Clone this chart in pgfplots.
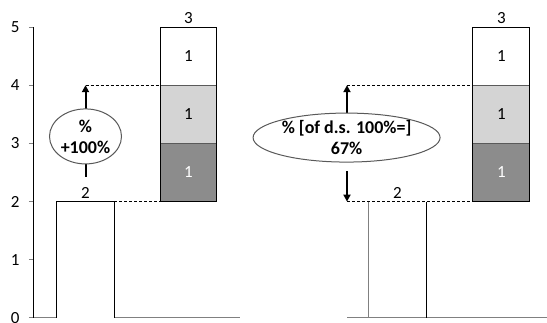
\documentclass[border=0pt]{standalone}
\usepackage{pgfplots}
\pgfplotsset{compat=1.18}
\usepackage{fontspec}
\setmainfont{Carlito}
\usetikzlibrary{arrows.meta,shapes.geometric}

\definecolor{segdark}{HTML}{8C8C8C}
\definecolor{seglight}{HTML}{D4D4D4}
\definecolor{segline}{HTML}{5A5A5A}

\pgfplotsset{
  panel/.style={
    scale only axis, anchor=south west, height=291pt,
    ymin=0, ymax=5, clip=false,
    xtick=\empty,
    tick label style={font=\fontsize{17}{17}\selectfont},
    /pgf/number format/assume math mode=true,
  },
  seg/.style={draw=segline, line width=1pt},
}
\tikzset{
  lbl/.style={font=\fontsize{17}{17}\selectfont},
  arr/.style={line width=2pt, -{Triangle[length=7pt,width=7pt]}},
  dsh/.style={black, line width=0.8pt, dash pattern=on 3pt off 2pt},
  oval/.style={ellipse, draw=gray!70!black, line width=1pt, fill=white, inner sep=0pt,
    align=center, font=\bfseries\fontsize{18}{21}\selectfont},
}

\begin{document}
\begin{tikzpicture}
\useasboundingbox (0,0) rectangle (547pt,323pt);

% left panel
\begin{axis}[panel, at={(34pt,5pt)}, width=206pt,
  xmin=0.5, xmax=2.5,
  axis x line=bottom, axis y line=left,
  x axis line style={-, gray, line width=1pt},
  y axis line style={-, black, line width=1pt},
  ytick={0,1,2,3,4,5},
  tick align=outside, major tick length=5pt,
  y tick style={gray, line width=1pt},
  yticklabel style={xshift=-6pt},
]
% base bar
\addplot[draw=black, fill=white, line width=1pt]
  coordinates {(0.722,0) (0.722,2) (1.278,2) (1.278,0)};
% stacked bar: 1 + 1 + 1 on top of 2
\addplot[seg, fill=segdark]  coordinates {(1.725,2) (2.275,2) (2.275,3) (1.725,3)} -- cycle;
\addplot[seg, fill=seglight] coordinates {(1.725,3) (2.275,3) (2.275,4) (1.725,4)} -- cycle;
\addplot[seg, fill=white]    coordinates {(1.725,4) (2.275,4) (2.275,5) (1.725,5)} -- cycle;
\draw[black, line width=1pt] (axis cs:1.725,2) rectangle (axis cs:2.275,5);

\addplot[dsh] coordinates {(1.0,4) (1.725,4)};
\addplot[dsh] coordinates {(1.278,2) (1.725,2)};

\node[lbl, above] at (axis cs:1,2) {2};
\node[lbl, above] at (axis cs:2,5) {3};
\node[lbl] at (axis cs:2,4.5) {1};
\node[lbl] at (axis cs:2,3.5) {1};
\node[lbl, white] at (axis cs:2,2.5) {1};

\draw[arr] (axis cs:1,3.56) -- (axis cs:1,4);
\draw[line width=2pt] (axis cs:1,2.43) -- (axis cs:1,2.64);
\node[oval, minimum width=72pt, minimum height=55pt] at (axis cs:1,3.12) {\%\\+100\%};
\end{axis}

% right panel
\begin{axis}[panel, at={(347pt,5pt)}, width=200pt,
  xmin=0.514, xmax=2.4375,
  axis x line=bottom, hide y axis,
  x axis line style={-, gray, line width=1pt},
]
\addplot[draw=gray, line width=1pt] coordinates {(0.716,0) (0.716,2)};
\addplot[draw=black, line width=1pt] coordinates {(1.283,2) (1.283,0)};
\addplot[seg, fill=segdark]  coordinates {(1.725,2) (2.273,2) (2.273,3) (1.725,3)} -- cycle;
\addplot[seg, fill=seglight] coordinates {(1.725,3) (2.273,3) (2.273,4) (1.725,4)} -- cycle;
\addplot[seg, fill=white]    coordinates {(1.725,4) (2.273,4) (2.273,5) (1.725,5)} -- cycle;
\draw[black, line width=1pt] (axis cs:1.725,2) rectangle (axis cs:2.273,5);

\addplot[dsh] coordinates {(0.514,4) (1.725,4)};
\addplot[dsh] coordinates {(0.514,2) (1.725,2)};

\node[lbl, above] at (axis cs:1,2) {2};
\node[lbl, above] at (axis cs:2,5) {3};
\node[lbl] at (axis cs:2,4.5) {1};
\node[lbl] at (axis cs:2,3.5) {1};
\node[lbl, white] at (axis cs:2,2.5) {1};

\draw[arr] (axis cs:0.514,3.46) -- (axis cs:0.514,4);
\draw[arr] (axis cs:0.514,2.52) -- (axis cs:0.514,2);
\node[oval, minimum width=187pt, minimum height=49pt] at (axis cs:0.51,3.1)
  {\% [of d.s. 100\%=]\\67\%};
\end{axis}
\end{tikzpicture}
\end{document}
